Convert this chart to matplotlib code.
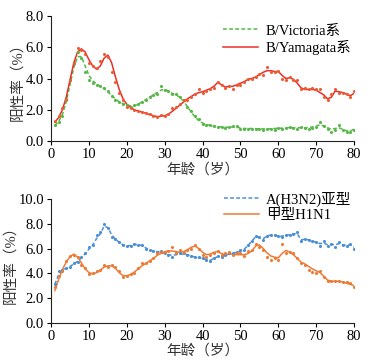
import matplotlib
matplotlib.use("Agg")
import matplotlib.pyplot as plt
import numpy as np

plt.rcParams['font.family'] = ['Liberation Serif', 'Noto Sans CJK SC']
plt.rcParams['font.size'] = 10

ages = list(range(1, 81))

vic_pts = [1.0,1.2,1.6,2.6,3.9,5.0,5.7,5.3,4.4,3.9, 3.7,3.6,3.5,3.4,3.2,2.9,2.6,2.5,2.4,2.3,
           2.2,2.3,2.35,2.5,2.6,2.8,2.95,3.0,3.5,3.25, 3.2,3.0,3.0,2.8,2.6,2.2,1.9,1.6,1.4,1.1,
           1.05,1.0,0.95,0.9,0.9,0.85,0.9,0.95,0.95,0.8, 0.8,0.75,0.8,0.75,0.8,0.7,0.75,0.8,0.7,0.85,
           0.8,0.85,0.9,0.85,0.8,0.9,0.85,0.8,0.85,0.9, 1.2,0.95,0.8,0.6,0.7,1.0,0.7,0.55,0.55,0.7]
vic_fit = [1.0,1.25,1.7,2.5,3.6,4.7,5.4,5.4,4.8,4.2, 3.85,3.65,3.5,3.35,3.15,2.9,2.7,2.5,2.4,2.3,
           2.25,2.25,2.35,2.5,2.65,2.8,2.95,3.1,3.25,3.3, 3.2,3.05,2.95,2.8,2.55,2.2,1.85,1.55,1.3,1.15,
           1.05,1.0,0.95,0.92,0.9,0.88,0.88,0.9,0.88,0.83, 0.8,0.8,0.8,0.78,0.78,0.78,0.78,0.78,0.8,0.82,
           0.82,0.85,0.85,0.85,0.85,0.85,0.85,0.85,0.9,0.95, 1.05,0.95,0.85,0.75,0.8,0.85,0.75,0.65,0.65,0.75]
yam_pts = [1.3,1.6,2.1,2.7,3.9,5.0,5.95,5.8,5.6,5.0, 4.8,4.7,5.1,5.6,5.4,4.4,3.8,3.1,2.6,2.2,
           2.1,2.0,1.9,1.85,1.8,1.7,1.6,1.55,1.65,1.6, 1.7,2.1,2.2,2.4,2.6,2.65,2.8,3.0,3.3,3.1,
           3.2,3.3,3.4,3.8,3.6,3.4,3.5,3.3,3.6,3.6, 3.8,4.0,4.0,4.1,4.3,4.2,4.75,4.4,4.4,4.5,
           4.0,3.9,4.1,3.9,3.9,3.3,3.4,3.3,3.4,3.3, 3.3,2.8,2.6,3.0,3.3,3.1,3.1,3.0,2.8,3.2]
yam_fit = [1.2,1.5,2.0,2.8,3.9,5.0,5.7,5.9,5.7,5.2, 4.8,4.6,4.8,5.3,5.5,5.0,4.1,3.3,2.7,2.35,
           2.15,2.0,1.92,1.85,1.78,1.7,1.62,1.56,1.58,1.62, 1.72,1.9,2.1,2.3,2.5,2.7,2.85,3.0,3.1,3.15,
           3.25,3.35,3.5,3.75,3.6,3.45,3.5,3.5,3.6,3.7, 3.8,3.95,4.0,4.1,4.25,4.4,4.5,4.5,4.45,4.45,
           4.2,4.0,4.05,3.95,3.7,3.4,3.3,3.3,3.3,3.25, 3.1,2.95,2.7,2.8,3.2,3.15,3.1,3.0,2.9,3.05]

h3_pts = [3.1,4.2,4.3,4.4,4.5,4.8,4.9,5.3,5.6,6.1, 6.3,7.1,7.3,8.0,7.7,6.9,6.8,6.5,6.3,6.2,
          6.2,6.4,6.3,6.3,6.0,5.9,5.8,5.7,5.8,5.6, 5.5,5.3,5.6,5.6,5.6,5.5,5.4,5.3,5.3,5.2,
          5.1,5.0,5.2,5.4,5.3,5.5,5.6,5.6,5.7,5.9, 5.9,6.3,6.6,7.0,6.9,6.7,7.0,7.1,7.1,7.0,
          6.9,7.1,7.1,7.2,7.3,6.6,6.8,6.7,6.6,6.5, 6.2,6.6,6.2,6.4,6.1,6.5,6.3,6.2,6.4,6.0]
h3_fit = [3.1,3.9,4.25,4.4,4.55,4.75,4.95,5.25,5.6,5.95, 6.3,6.8,7.2,7.8,7.7,7.1,6.75,6.5,6.3,6.2,
          6.25,6.35,6.3,6.25,6.05,5.9,5.8,5.75,5.7,5.6, 5.5,5.45,5.5,5.55,5.55,5.5,5.4,5.3,5.25,5.2,
          5.1,5.05,5.2,5.35,5.35,5.45,5.55,5.6,5.7,5.8, 5.95,6.25,6.6,6.95,6.9,6.8,7.0,7.1,7.1,7.0,
          7.0,7.1,7.1,7.2,7.2,6.7,6.75,6.7,6.6,6.5, 6.4,6.45,6.3,6.35,6.3,6.4,6.3,6.25,6.3,6.1]
h1_pts = [2.9,3.8,4.2,5.0,5.4,5.5,5.3,4.7,4.4,3.9, 4.0,4.2,4.3,4.7,4.5,4.7,4.5,4.2,3.7,3.8,
          3.9,4.0,4.4,4.8,4.8,5.0,5.2,5.6,5.7,5.7, 5.8,6.1,5.6,5.9,5.7,5.9,6.0,6.3,6.0,5.5,
          5.3,5.5,5.6,5.8,5.5,5.6,5.7,5.5,5.6,5.6, 5.4,5.8,5.9,6.4,6.1,5.9,5.3,5.1,5.2,5.1,
          6.4,5.6,5.7,5.6,5.2,4.8,4.7,4.3,4.1,4.0, 4.2,3.7,3.4,3.4,3.4,3.4,3.3,3.3,3.2,2.9]
h1_fit = [2.6,3.5,4.3,4.9,5.35,5.55,5.3,4.85,4.35,4.05, 3.95,4.05,4.25,4.5,4.6,4.6,4.4,4.05,3.8,3.8,
          3.9,4.1,4.35,4.6,4.8,5.0,5.2,5.45,5.6,5.75, 5.8,5.8,5.75,5.7,5.75,5.9,6.1,6.2,6.0,5.7,
          5.5,5.55,5.7,5.75,5.6,5.5,5.55,5.55,5.5,5.5, 5.5,5.6,5.8,6.2,6.3,6.0,5.65,5.4,5.3,5.25,
          5.6,5.85,5.7,5.5,5.2,4.9,4.75,4.55,4.35,4.2, 4.05,3.75,3.45,3.35,3.35,3.35,3.3,3.2,3.1,3.0]

x_ticks = [0, 10, 20, 30, 40, 50, 60, 70, 80]
top_yticks = [0.0, 2.0, 4.0, 6.0, 8.0]
bot_yticks = [0.0, 2.0, 4.0, 6.0, 8.0, 10.0]

GREEN = '#55b947'
RED = '#e8302a'
BLUE = '#4a8fd8'
ORANGE = '#ed7b35'

fig = plt.figure(figsize=(3.70, 3.64), dpi=100)
ax1 = fig.add_axes([0.138, 0.6126, 0.819, 0.3434])
ax2 = fig.add_axes([0.138, 0.1135, 0.819, 0.3395])

def style(ax, yt):
    for s in ['top', 'right']:
        ax.spines[s].set_visible(False)
    for s in ['left', 'bottom']:
        ax.spines[s].set_linewidth(0.8)
        ax.spines[s].set_color('#222222')
    ax.set_xlim(0, 80)
    ax.set_xticks(x_ticks)
    ax.set_yticks(yt)
    ax.set_ylim(yt[0], yt[-1])
    ax.set_yticklabels([f'{v:.1f}' for v in yt])
    ax.tick_params(direction='out', length=3, width=0.8, labelsize=10.5, pad=2)
    ax.set_xlabel('年龄（岁）', fontsize=10.5, labelpad=1, color='#333333')
    ax.set_ylabel('阳性率（%）', fontsize=10.5, labelpad=1, color='#333333')

ax1.plot(ages, vic_fit, color=GREEN, lw=1.1, ls=(0, (2.5, 1.5)), label='B/Victoria系')
ax1.plot(ages, yam_fit, color=RED, lw=1.1, label='B/Yamagata系')
ax1.scatter(ages, vic_pts, s=5, color=GREEN, zorder=3, linewidths=0)
ax1.scatter(ages, yam_pts, s=5, color='#ef5a30', zorder=3, linewidths=0)
style(ax1, top_yticks)
ax1.legend(loc='upper right', frameon=False, fontsize=10.5, handlelength=2.4,
           handletextpad=0.5, borderaxespad=0.0, labelspacing=0.15,
           bbox_to_anchor=(1.01, 0.98))

ax2.plot(ages, h3_fit, color=BLUE, lw=1.1, ls=(0, (2.5, 1.5)), label='A(H3N2)亚型')
ax2.plot(ages, h1_fit, color=ORANGE, lw=1.1, label='甲型H1N1')
ax2.scatter(ages, h3_pts, s=5, color=BLUE, zorder=3, linewidths=0)
ax2.scatter(ages, h1_pts, s=5, color=ORANGE, zorder=3, linewidths=0)
style(ax2, bot_yticks)
ax2.legend(loc='upper right', frameon=False, fontsize=10.5, handlelength=2.4,
           handletextpad=0.5, borderaxespad=0.0, labelspacing=0.15,
           bbox_to_anchor=(1.01, 1.11))

fig.savefig('out.png', dpi=100)
